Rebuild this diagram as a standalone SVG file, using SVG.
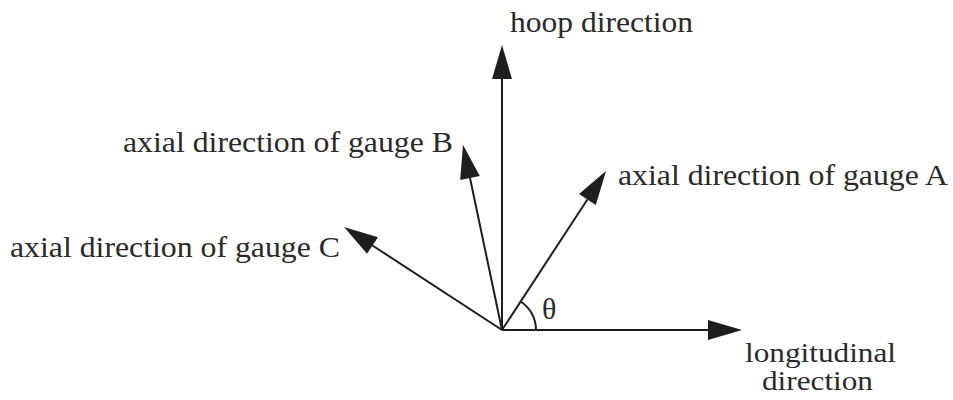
<svg xmlns="http://www.w3.org/2000/svg" width="953" height="400" viewBox="0 0 953 400">
<style>
.lbl{font-family:"Liberation Serif",serif;font-size:30px;fill:#2a2a2a}
.sm{font-size:28px}
.ln{stroke:#1e1e1e;stroke-width:2;fill:none}
</style>
<defs>
<marker id="ah" markerUnits="userSpaceOnUse" markerWidth="40" markerHeight="24" viewBox="0 -12 40 24" refX="0" refY="0" orient="auto" overflow="visible">
<path d="M0,-10 L34,0 L0,10 Z" fill="#1e1e1e"/>
</marker>
</defs>
<rect width="953" height="400" fill="#ffffff"/>
<g id="connectors">
<line class="ln" x1="502" y1="330" x2="502" y2="79" marker-end="url(#ah)"/>
<line class="ln" x1="502" y1="330" x2="708" y2="330" marker-end="url(#ah)"/>
<line class="ln" x1="502" y1="330" x2="587.4" y2="199.5" marker-end="url(#ah)"/>
<line class="ln" x1="502" y1="330" x2="470" y2="178" marker-end="url(#ah)"/>
<line class="ln" x1="502" y1="330" x2="372.5" y2="245.5" marker-end="url(#ah)"/>
<path class="ln" d="M536,330 A34,34 0 0 0 520.6,301.5"/>
</g>
<g id="hoop"><text class="lbl" font-family="Liberation Serif" x="510" y="32" textLength="183" lengthAdjust="spacingAndGlyphs">hoop direction</text></g>
<g id="gaugeB"><text class="lbl" font-family="Liberation Serif" x="123" y="152" textLength="330" lengthAdjust="spacingAndGlyphs">axial direction of gauge B</text></g>
<g id="gaugeA"><text class="lbl" font-family="Liberation Serif" x="618" y="185" textLength="330" lengthAdjust="spacingAndGlyphs">axial direction of gauge A</text></g>
<g id="gaugeC"><text class="lbl" font-family="Liberation Serif" x="10" y="257" textLength="330" lengthAdjust="spacingAndGlyphs">axial direction of gauge C</text></g>
<g id="theta"><text class="lbl" font-family="Liberation Serif" x="542" y="319">θ</text></g>
<g id="longitudinal">
<text class="lbl sm" font-family="Liberation Serif" x="745" y="362" textLength="151" lengthAdjust="spacingAndGlyphs">longitudinal</text>
<text class="lbl sm" font-family="Liberation Serif" x="762" y="390" textLength="111" lengthAdjust="spacingAndGlyphs">direction</text>
</g>
</svg>
